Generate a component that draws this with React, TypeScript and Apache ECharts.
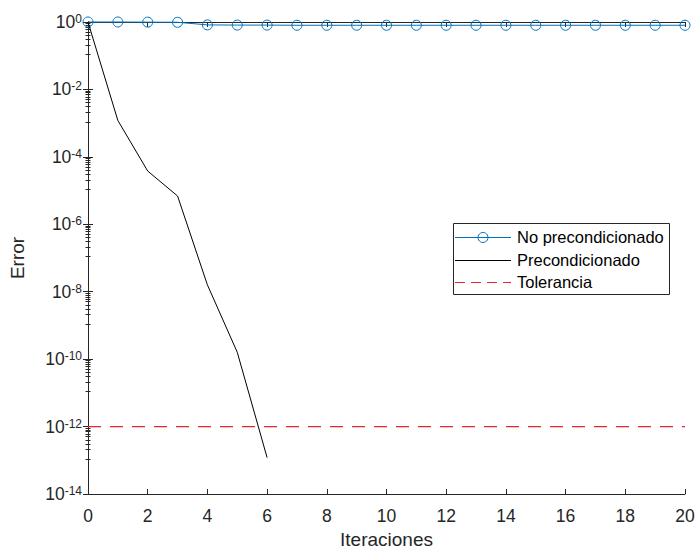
import React, { useEffect, useRef } from "react";
import * as echarts from "echarts";

const iterations = [0, 1, 2, 3, 4, 5, 6, 7, 8, 9, 10, 11, 12, 13, 14, 15, 16, 17, 18, 19, 20];
const noPrecond = [1, 1, 0.99, 0.98, 0.82, 0.81, 0.81, 0.8, 0.8, 0.8, 0.8, 0.8, 0.8, 0.8, 0.8, 0.8, 0.8, 0.8, 0.8, 0.8, 0.8];
const precondIter = [0, 1, 2, 3, 4, 5, 6];
const precond = [1, 1.2e-3, 3.8e-5, 6.9e-6, 1.6e-8, 1.6e-10, 1.2e-13];
const tolerance = 1e-12;
const tolIter = [0, 20];
const seriesNames = ["No precondicionado", "Precondicionado", "Tolerancia"];

const FONT = "'Liberation Sans', Arial, Helvetica, sans-serif";
const AX = "#262626";
const BLUE = "#0072BD";
const RED = "#e3262f";

export default function App() {
  const ref = useRef<HTMLDivElement>(null);
  useEffect(() => {
    document.body.style.margin = "0";
    const chart = echarts.init(ref.current!, null, { renderer: "svg" });
    const yFmt = (v: number) => {
      const e = Math.round(Math.log10(v));
      return `{b|10}{sup|${e}}`;
    };
    const tickCommon = {
      axisLine: { show: true, lineStyle: { color: AX, width: 1 } },
      axisTick: { show: true, inside: true, length: 5, lineStyle: { color: AX } },
      splitLine: { show: false },
    };

    // legend drawn as graphic elements
    const LX = 453, LY = 223, LW = 216, LH = 71;
    const rows = [237, 260, 282];
    const legendColors = [BLUE, "#000000", RED];
    const legendElems: any[] = [
      { type: "rect", shape: { x: LX + 0.5, y: LY + 0.5, width: LW, height: LH }, style: { fill: "#ffffff", stroke: AX, lineWidth: 1 }, z: 100 },
    ];
    seriesNames.forEach((n, i) => {
      legendElems.push({
        type: "line",
        shape: { x1: LX + 2, y1: rows[i] + 0.5, x2: LX + 58, y2: rows[i] + 0.5 },
        style: { stroke: legendColors[i], lineWidth: i === 2 ? 1.2 : 1, lineDash: i === 2 ? [10, 6] : null },
        z: 101,
      });
      legendElems.push({
        type: "text",
        x: LX + 64,
        y: rows[i],
        style: { text: n, fill: "#000", font: `16.5px ${FONT}`, textVerticalAlign: "middle", verticalAlign: "middle" },
        z: 101,
      });
    });
    legendElems.push({
      type: "circle",
      shape: { cx: LX + 30, cy: rows[0] + 0.5, r: 5 },
      style: { fill: "none", stroke: BLUE, lineWidth: 1 },
      z: 102,
    });

    chart.setOption({
      animation: false,
      backgroundColor: "#ffffff",
      textStyle: { fontFamily: FONT },
      grid: { left: 88, right: 12, top: 22, bottom: 56, containLabel: false, outerBoundsMode: "none" },
      legend: { show: false },
      graphic: legendElems,
      xAxis: [
        {
          type: "value",
          min: 0,
          max: 20,
          interval: 2,
          position: "bottom",
          name: "Iteraciones",
          nameLocation: "middle",
          nameGap: 36,
          nameTextStyle: { fontFamily: FONT, fontSize: 19, lineHeight: 19, color: AX },
          axisLabel: { fontFamily: FONT, fontSize: 17.5, color: AX, margin: 13 },
          ...tickCommon,
        },
        {
          type: "value",
          min: 0,
          max: 20,
          interval: 2,
          position: "top",
          axisLabel: { show: false },
          ...tickCommon,
        },
      ],
      yAxis: [
        {
          type: "log",
          logBase: 10,
          min: 1e-14,
          max: 1,
          interval: 2,
          position: "left",
          name: "Error",
          nameLocation: "middle",
          nameGap: 61,
          nameTextStyle: { fontFamily: FONT, fontSize: 19, color: AX },
          axisLabel: {
            color: AX,
            margin: 6,
            formatter: yFmt,
            rich: {
              b: { fontSize: 17.5, lineHeight: 18, color: AX, fontFamily: FONT, verticalAlign: "bottom" },
              sup: { fontSize: 12, lineHeight: 12, color: AX, fontFamily: FONT, verticalAlign: "top", padding: [0, 0, 10, 0] },
            },
          },
          minorTick: { show: true, splitNumber: 10, length: 2.5, lineStyle: { color: AX } },
          ...tickCommon,
        },
        {
          type: "log",
          logBase: 10,
          min: 1e-14,
          max: 1,
          interval: 2,
          position: "right",
          axisLabel: { show: false },
          minorTick: { show: true, splitNumber: 10, length: 2.5, lineStyle: { color: AX } },
          ...tickCommon,
        },
      ],
      series: [
        {
          name: seriesNames[0],
          type: "line",
          data: iterations.map((x, i) => [x, noPrecond[i]]),
          symbol: "circle",
          symbolSize: 10,
          showAllSymbol: true,
          clip: false,
          color: BLUE,
          lineStyle: { color: BLUE, width: 1 },
          itemStyle: { color: "rgba(0,0,0,0)", borderColor: BLUE, borderWidth: 1 },
          z: 2,
        },
        {
          name: seriesNames[1],
          type: "line",
          data: precondIter.map((x, i) => [x, precond[i]]),
          symbol: "none",
          clip: false,
          color: "#000000",
          lineStyle: { color: "#000000", width: 1 },
          itemStyle: { color: "#000000" },
          z: 3,
        },
        {
          name: seriesNames[2],
          type: "line",
          data: tolIter.map((x) => [x, tolerance]),
          symbol: "none",
          color: RED,
          lineStyle: { color: RED, width: 1.2, type: [13, 9] },
          itemStyle: { color: RED },
          z: 2,
        },
      ],
    });
    return () => chart.dispose();
  }, []);
  return <div ref={ref} style={{ width: 697, height: 550 }} />;
}
